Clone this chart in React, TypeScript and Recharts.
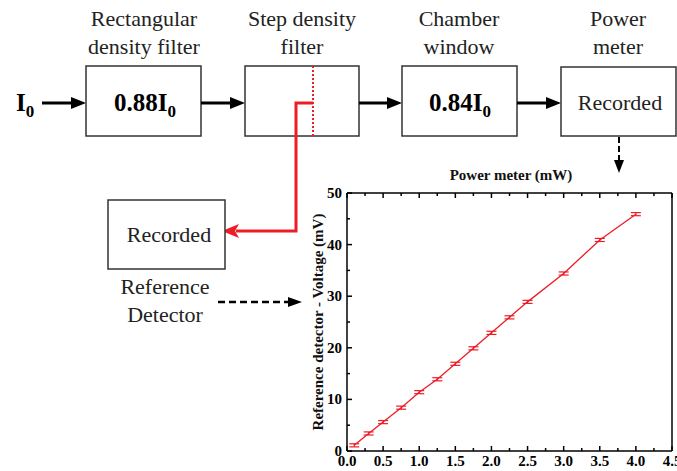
import React from "react";
import { LineChart, Line, XAxis, YAxis, ErrorBar } from "recharts";

// power meter reading (mW)
const powerMw = [0.1, 0.3, 0.5, 0.75, 1.0, 1.25, 1.5, 1.75, 2.0, 2.25, 2.5, 3.0, 3.5, 4.0];
// reference detector voltage (mV)
const voltageMv = [1.1, 3.4, 5.6, 8.4, 11.4, 13.9, 16.9, 19.9, 22.9, 25.9, 28.9, 34.4, 40.9, 45.9];
const errMv = [0.3, 0.3, 0.3, 0.3, 0.3, 0.3, 0.3, 0.3, 0.3, 0.3, 0.3, 0.3, 0.3, 0.3];

const xTicks = [0, 0.25, 0.5, 0.75, 1, 1.25, 1.5, 1.75, 2, 2.25, 2.5, 2.75, 3, 3.25, 3.5, 3.75, 4, 4.25, 4.5];
const yTicks = [0, 5, 10, 15, 20, 25, 30, 35, 40, 45, 50];

const data = powerMw.map((p, i) => ({ x: p, y: voltageMv[i], err: errMv[i] }));

const serif = "'Liberation Serif', 'Times New Roman', serif";
const red = "#ee1c25";

const isMajor = (v: number, step: number) => Math.abs(v / step - Math.round(v / step)) < 1e-6;

const BottomTick = (props: any) => {
  const { x, y, payload } = props;
  const major = isMajor(payload.value, 0.5);
  return (
    <g>
      <line x1={x} y1={y} x2={x} y2={y - (major ? 5 : 3)} stroke="#000" strokeWidth={1.5} />
      {major && (
        <text x={x} y={y + 15} textAnchor="middle" fontFamily={serif} fontWeight="bold" fontSize={15} fill="#000">
          {payload.value.toFixed(1)}
        </text>
      )}
    </g>
  );
};

const TopTick = (props: any) => {
  const { x, y, payload } = props;
  const major = isMajor(payload.value, 0.5);
  return <line x1={x} y1={y} x2={x} y2={y + (major ? 5 : 3)} stroke="#000" strokeWidth={1.5} />;
};

const LeftTick = (props: any) => {
  const { x, y, payload } = props;
  const major = isMajor(payload.value, 10);
  return (
    <g>
      <line x1={x} y1={y} x2={x + (major ? 5 : 3)} y2={y} stroke="#000" strokeWidth={1.5} />
      {major && (
        <text x={x - 5} y={y + 5} textAnchor="end" fontFamily={serif} fontWeight="bold" fontSize={15} fill="#000">
          {payload.value}
        </text>
      )}
    </g>
  );
};

const RightTick = (props: any) => {
  const { x, y, payload } = props;
  const major = isMajor(payload.value, 10);
  return <line x1={x} y1={y} x2={x - (major ? 5 : 3)} y2={y} stroke="#000" strokeWidth={1.5} />;
};

const Box = ({ x, y, w, h }: { x: number; y: number; w: number; h: number }) => (
  <rect x={x} y={y} width={w} height={h} fill="#fff" stroke="#333" strokeWidth={1.5} />
);

const Label = ({ cx, lines }: { cx: number; lines: string[] }) => (
  <text x={cx} textAnchor="middle" fontFamily={serif} fontSize={22} fill="#222">
    {lines.map((l, i) => (
      <tspan key={i} x={cx} y={26 + i * 28}>
        {l}
      </tspan>
    ))}
  </text>
);

const Arrow = ({ x1, x2, y }: { x1: number; x2: number; y: number }) => (
  <g>
    <line x1={x1} y1={y} x2={x2 - 10} y2={y} stroke="#000" strokeWidth={3} />
    <polygon points={`${x2},${y} ${x2 - 15},${y - 6} ${x2 - 15},${y + 6}`} fill="#000" />
  </g>
);

const BoldI = ({ x, y, pre }: { x: number; y: number; pre: string }) => (
  <text x={x} y={y} textAnchor="middle" fontFamily={serif} fontWeight="bold" fontSize={25} fill="#000">
    {pre}I
    <tspan fontSize={17} dy={6}>0</tspan>
  </text>
);

const axisLine = { stroke: "#000", strokeWidth: 1.5 };

export default function App() {
  return (
    <div style={{ position: "absolute", left: 0, top: 0, width: 677, height: 471, background: "#fff" }}>
      <svg width={677} height={471} style={{ position: "absolute", left: 0, top: 0 }}>
        <Label cx={144} lines={["Rectangular", "density filter"]} />
        <Label cx={302} lines={["Step density", "filter"]} />
        <Label cx={459} lines={["Chamber", "window"]} />
        <Label cx={618} lines={["Power", "meter"]} />

        <text x={16} y={111} fontFamily={serif} fontWeight="bold" fontSize={25} fill="#000">
          I<tspan fontSize={17} dy={6}>0</tspan>
        </text>
        <Arrow x1={42} x2={86} y={103} />
        <Box x={86} y={66} w={115} h={70} />
        <BoldI x={145} y={111} pre="0.88" />
        <Arrow x1={201} x2={245} y={103} />
        <Box x={245} y={66} w={114} h={70} />
        <Arrow x1={359} x2={402} y={103} />
        <Box x={402} y={66} w={115} h={70} />
        <BoldI x={460} y={111} pre="0.84" />
        <Arrow x1={517} x2={561} y={103} />
        <Box x={561} y={67} w={115} h={69} />
        <text x={620} y={110} textAnchor="middle" fontFamily={serif} fontSize={22} fill="#222">
          Recorded
        </text>

        {/* step filter split to reference detector */}
        <line x1={313} y1={66} x2={313} y2={136} stroke={red} strokeWidth={2} strokeDasharray="2 2" />
        <polyline points="313,103 296,103 296,231 236,231" fill="none" stroke={red} strokeWidth={3} />
        <polygon points="222,231 239,224 235,231 239,238" fill={red} />

        <Box x={108} y={200} w={117} h={69} />
        <text x={169} y={242} textAnchor="middle" fontFamily={serif} fontSize={22} fill="#222">
          Recorded
        </text>
        <text x={165} textAnchor="middle" fontFamily={serif} fontSize={22} fill="#222">
          <tspan x={165} y={294}>Reference</tspan>
          <tspan x={165} y={322}>Detector</tspan>
        </text>

        {/* dashed pointers to the plot */}
        <line x1={218} y1={302} x2={292} y2={302} stroke="#000" strokeWidth={2.5} strokeDasharray="7 4" />
        <polygon points="302,302 288,297 288,307" fill="#000" />
        <line x1={619} y1={137} x2={619} y2={162} stroke="#000" strokeWidth={2} strokeDasharray="6 3" />
        <polygon points="619,173 614,160 624,160" fill="#000" />

        <text x={511} y={180} textAnchor="middle" fontFamily={serif} fontWeight="bold" fontSize={15} fill="#111">
          Power meter (mW)
        </text>
        <text
          x={0}
          y={0}
          transform="translate(323 322) rotate(-90)"
          textAnchor="middle"
          fontFamily={serif}
          fontWeight="bold"
          fontSize={15}
          fill="#111"
        >
          Reference detector - Voltage (mV)
        </text>
      </svg>

      <div style={{ position: "absolute", left: 300, top: 160 }}>
        <LineChart width={377} height={311} data={data} margin={{ top: 32, right: 4, bottom: 0, left: 0 }}>
          <XAxis
            xAxisId="b"
            dataKey="x"
            type="number"
            domain={[0, 4.5]}
            ticks={xTicks}
            interval={0}
            height={20}
            tickLine={false}
            tickSize={0}
            tickMargin={0}
            tick={<BottomTick />}
            axisLine={axisLine}
          />
          <XAxis
            xAxisId="t"
            dataKey="x"
            type="number"
            orientation="top"
            domain={[0, 4.5]}
            ticks={xTicks}
            interval={0}
            height={1}
            tickLine={false}
            tickSize={0}
            tickMargin={0}
            tick={<TopTick />}
            axisLine={axisLine}
          />
          <YAxis
            yAxisId="l"
            type="number"
            domain={[0, 50]}
            ticks={yTicks}
            interval={0}
            width={47}
            tickLine={false}
            tickSize={0}
            tickMargin={0}
            tick={<LeftTick />}
            axisLine={axisLine}
          />
          <YAxis
            yAxisId="r"
            type="number"
            orientation="right"
            domain={[0, 50]}
            ticks={yTicks}
            interval={0}
            width={1}
            tickLine={false}
            tickSize={0}
            tickMargin={0}
            tick={<RightTick />}
            axisLine={axisLine}
          />
          <Line
            xAxisId="b"
            yAxisId="l"
            type="linear"
            dataKey="y"
            stroke={red}
            strokeWidth={1.3}
            dot={false}
            isAnimationActive={false}
          >
            <ErrorBar dataKey="err" direction="y" width={5} stroke={red} strokeWidth={1.2} isAnimationActive={false} />
          </Line>
        </LineChart>
      </div>
    </div>
  );
}
